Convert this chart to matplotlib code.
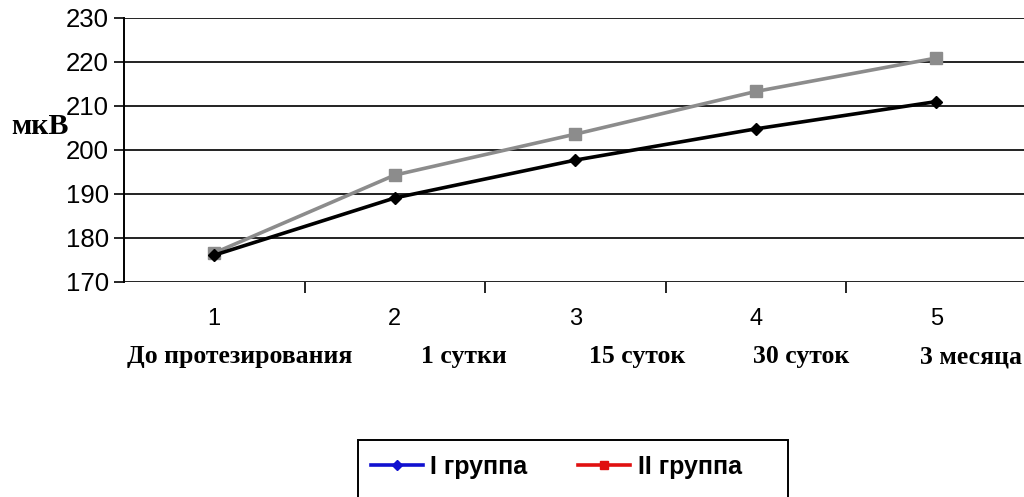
import matplotlib.pyplot as plt
from matplotlib.lines import Line2D
from matplotlib.patches import Rectangle

# data
points = [1, 2, 3, 4, 5]
stage_labels = ['До протезирования', '1 сутки', '15 суток', '30 суток', '3 месяца']
group1 = [176.1, 189.1, 197.7, 204.8, 211.0]
group2 = [176.6, 194.3, 203.6, 213.3, 220.9]
series_names = ['I группа', 'II группа']

W, H = 1024, 497
fig = plt.figure(figsize=(W / 100, H / 100), dpi=100)
ax = fig.add_axes([124 / W, 1 - 282 / H, 900 / W, 264 / H])

# grid lines (drawn as horizontal lines, the 170 line acts as bottom axis)
for v in range(170, 231, 10):
    ax.axhline(v, color='#222222', linewidth=1.4, zorder=1)

ax.plot(points, group2, color='#8c8c8c', linewidth=2.6, marker='s', markersize=8,
        markerfacecolor='#8c8c8c', markeredgecolor='#8c8c8c', zorder=3)
ax.plot(points, group1, color='black', linewidth=2.6, marker='D', markersize=6,
        markerfacecolor='black', zorder=4)

ax.set_xlim(0.5, 5.486)
ax.set_ylim(170, 230)
ax.set_yticks(range(170, 231, 10))
ax.tick_params(axis='y', length=7, width=1.2, direction='out', labelsize=18.5, pad=4)

# boundary ticks (major) and category numbers (minor)
ax.set_xticks([1.5, 2.5, 3.5, 4.5])
ax.set_xticklabels([])
ax.tick_params(axis='x', which='major', length=8, width=1.2, direction='out')
ax.set_xticks(points, minor=True)
ax.set_xticklabels([str(p) for p in points], minor=True)
ax.tick_params(axis='x', which='minor', length=0, labelsize=17, pad=19)

for s in ['top', 'right', 'bottom']:
    ax.spines[s].set_visible(False)
ax.spines['left'].set_linewidth(1.4)
for lab in ax.get_yticklabels() + ax.get_xticklabels(minor=True):
    lab.set_fontfamily('Liberation Sans')

# stage names under the numbers
stage_x = [1.14, 2.385, 3.34, 4.25, 5.19]
for sx, name in zip(stage_x, stage_labels):
    ax.text(sx, -0.2835, name, transform=ax.get_xaxis_transform(), ha='center', va='center',
            fontsize=18.5, fontweight='bold', fontfamily='Liberation Serif')

fig.text(11 / W, 1 - 127 / H, 'мкВ', ha='left', va='center', fontsize=21.5, fontweight='bold',
         fontfamily='Liberation Serif')

# legend box (runs off the bottom of the image)
fig.patches.append(Rectangle((358 / W, -0.05), (788 - 358) / W, 0.05 + (497 - 440) / H,
                             transform=fig.transFigure, fill=False, edgecolor='black',
                             linewidth=1.4))
handles = [Line2D([], [], color='#1010d0', linewidth=2.6, marker='D', markersize=5),
           Line2D([], [], color='#e01010', linewidth=2.6, marker='s', markersize=6)]
fig.legend(handles, series_names, loc='center left', bbox_to_anchor=(353 / W, 1 - 467 / H),
           ncol=2, frameon=False, handlelength=2.08, handletextpad=0.32, columnspacing=2.0,
           borderpad=0.2, prop={'family': 'Liberation Sans', 'weight': 'bold', 'size': 18})

fig.savefig('out.png', dpi=100)
